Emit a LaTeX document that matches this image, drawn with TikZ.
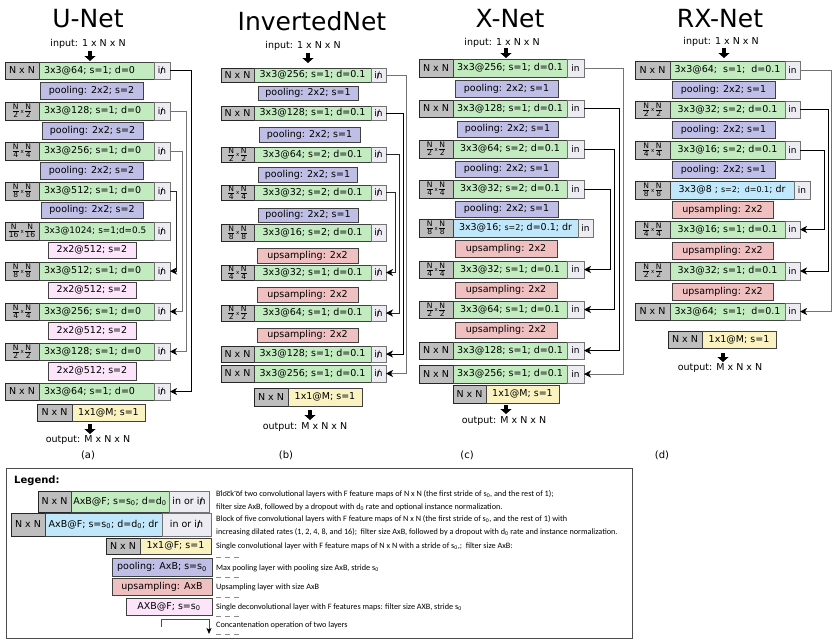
\documentclass[tikz,border=0pt]{standalone}
\usepackage{fontspec}
\setmainfont{DejaVu Sans}
\newfontfamily\descfont{Carlito}
\usetikzlibrary{arrows.meta}
\definecolor{cgray}{RGB}{190,190,190}
\definecolor{cgreen}{RGB}{194,235,192}
\definecolor{cblue}{RGB}{192,232,250}
\definecolor{cin}{RGB}{236,236,242}
\definecolor{cpool}{RGB}{190,190,230}
\definecolor{cup}{RGB}{240,192,192}
\definecolor{cdec}{RGB}{252,228,250}
\definecolor{cyel}{RGB}{250,242,192}
\definecolor{cline}{RGB}{115,115,115}
\newcommand{\bx}[7]{\node[#1, minimum width={(#5)-(#3)}, minimum height={(#6)-(#4)}] (#2) at (#3,#4) {#7};}
\newcommand{\fr}[1]{\ensuremath{\frac{\hbox{\fontsize{7.6}{7.6}\selectfont N}}{\hbox{\fontsize{7.6}{7.6}\selectfont #1}}}}
\newcommand{\fs}[1]{\fr{#1}\kern1pt\raisebox{0.3pt}{\fontsize{5.5}{6}\selectfont x}\kern0.3pt\fr{#1}}
\newcommand{\nin}{\ooalign{in\cr\hidewidth/\hidewidth\cr}}
\newcommand{\smtx}[1]{{\fontsize{8}{9}\selectfont #1}}
\newcommand{\crow}[5]{%
  \bx{szb}{#1s}{\cxa}{#2}{\cxb}{#3}{#4}
  \bx{cvs}{#1c}{\cxb}{#2}{\cxc}{#3}{#5}
  \bx{inb}{#1i}{\cxc}{#2}{\cxd}{#3}{\intxt}}
\tikzset{
  bx/.style={draw=black!75, line width=0.8pt, inner sep=0pt, outer sep=0pt, anchor=north west, font=\fontsize{9.5}{11}\selectfont},
  szb/.style={bx, fill=cgray, draw=black!85},
  cvb/.style={bx, fill=cgreen},
  blb/.style={bx, fill=cblue},
  inb/.style={bx, fill=cin, draw=black!55, font=\fontsize{9}{10}\selectfont},
  plb/.style={bx, fill=cpool},
  upb/.style={bx, fill=cup},
  dcb/.style={bx, fill=cdec},
  onb/.style={bx, fill=cyel},
  legb/.style={draw=black!70, line width=1pt, inner sep=0pt, outer sep=0pt, anchor=north west},
  cvs/.style={cvb},
  conn/.style={line width=0.9pt, -{Stealth[length=7pt,width=7pt,inset=2pt,color=black]}},
  bigarrow/.style={line width=4pt, -{Triangle[length=5pt,width=11pt]}},
  ttl/.style={font=\fontsize{25}{28}\selectfont, inner sep=0pt},
  lab/.style={font=\fontsize{9.5}{11}\selectfont, inner sep=0pt},
  sublab/.style={font=\fontsize{10}{12}\selectfont, inner sep=0pt},
  desc/.style={font=\descfont\fontsize{8.2}{9}\selectfont, anchor=west, inner sep=0pt},
  dmark/.style={draw=black!45, line width=0.6pt, dash pattern=on 5pt off 4pt},
}
\begin{document}
\begin{tikzpicture}[x=1pt,y=-1pt]
\useasboundingbox (0,0) rectangle (832,640);
\fill[white] (0,0) rectangle (832,640);

% ---------- titles ----------
\node[ttl] (At) at (88,19) {U-Net};
\node[ttl] (Bt) at (312,21) {InvertedNet};
\node[ttl] (Ct) at (510,19) {X-Net};
\node[ttl] (Dt) at (720,19) {RX-Net};

% ---------- U-Net ----------
\node[lab] (Ain) at (88,44) {input: 1 x N x N};
\coordinate (Aa1) at (90,51); \coordinate (Aa2) at (90,61);
\draw[bigarrow] (Aa1) -- (Aa2);
\def\cxa{5}\def\cxb{39}\def\cxc{154}\def\cxd{170}\def\intxt{\nin}
\tikzset{cvs/.style={cvb, align=left, text width=105pt, inner xsep=5pt}}
\crow{A1}{62}{79}{N x N}{3x3@64; s=1; d=0}
\crow{A2}{102}{120}{\fs{2}}{3x3@128; s=1; d=0}
\crow{A3}{142}{160}{\fs{4}}{3x3@256; s=1; d=0}
\crow{A4}{182}{200}{\fs{8}}{3x3@512; s=1; d=0}
\crow{A5}{222}{240}{\fs{16}}{{\fontsize{8.9}{10}\selectfont 3x3@1024; s=1;d=0.5}}
\crow{A6}{262}{280}{\fs{8}}{3x3@512; s=1; d=0}
\crow{A7}{303}{320}{\fs{4}}{3x3@256; s=1; d=0}
\crow{A8}{343}{360}{\fs{2}}{3x3@128; s=1; d=0}
\crow{A9}{383}{400}{N x N}{3x3@64; s=1; d=0}
\bx{plb}{Ap1}{40}{82}{143}{99}{pooling: 2x2; s=2}
\bx{plb}{Ap2}{42}{122}{143}{139}{pooling: 2x2; s=2}
\bx{plb}{Ap3}{40}{162}{143}{179}{pooling: 2x2; s=2}
\bx{plb}{Ap4}{41}{202}{143}{218}{pooling: 2x2; s=2}
\bx{dcb}{Ad1}{48}{242}{136}{258}{2x2@512; s=2}
\bx{dcb}{Ad2}{48}{282}{136}{298}{2x2@512; s=2}
\bx{dcb}{Ad3}{48}{322}{136}{339}{2x2@512; s=2}
\bx{dcb}{Ad4}{48}{362}{136}{380}{2x2@512; s=2}
\bx{szb}{Aos}{37}{404}{72}{421}{N x N}
\bx{onb}{Aoc}{72}{404}{145}{421}{1x1@M; s=1}
\coordinate (Ab1) at (90,424); \coordinate (Ab2) at (90,434);
\draw[bigarrow] (Ab1) -- (Ab2);
\node[lab] (Aout) at (88,440) {output: M x N x N};
\node[sublab] (Asub) at (88,455) {(a)};
\coordinate (Ac1) at (191,0); \coordinate (Ac2) at (186,0);
\coordinate (Ac3) at (182,0); \coordinate (Ac4) at (176,0);
\draw[conn, black] (A1i.east) -- (A1i.east -| Ac1) |- (A9i.east);
\draw[conn, cline] (A2i.east) -- (A2i.east -| Ac2) |- (A8i.east);
\draw[conn, cline] (A3i.east) -- (A3i.east -| Ac3) |- (A7i.east);
\draw[conn, black!85] (A4i.east) -- (A4i.east -| Ac4) |- (A6i.east);

% ---------- InvertedNet ----------
\node[lab] (Bin) at (303,46) {input: 1 x N x N};
\coordinate (Ba1) at (308,53); \coordinate (Ba2) at (308,63);
\draw[bigarrow] (Ba1) -- (Ba2);
\def\cxa{221}\def\cxb{254}\def\cxc{371}\def\cxd{386}\def\intxt{\nin}
\tikzset{cvs/.style={cvb}}
\crow{B1}{68}{82}{N x N}{3x3@256; s=1; d=0.1}
\crow{B2}{106}{120}{N x N}{3x3@128; s=1; d=0.1}
\crow{B3}{147}{162}{\fs{2}}{3x3@64; s=2; d=0.1}
\crow{B4}{185}{200}{\fs{4}}{3x3@32; s=2; d=0.1}
\crow{B5}{224}{241}{\fs{8}}{3x3@16; s=2; d=0.1}
\crow{B6}{265}{280}{\fs{4}}{3x3@32; s=1; d=0.1}
\crow{B7}{305}{321}{\fs{2}}{3x3@64; s=1; d=0.1}
\crow{B8}{346}{362}{N x N}{3x3@128; s=1; d=0.1}
\crow{B9}{365}{382}{N x N}{3x3@256; s=1; d=0.1}
\bx{plb}{Bp1}{258}{86}{358}{100}{pooling: 2x2; s=1}
\bx{plb}{Bp2}{259}{127}{360}{142}{pooling: 2x2; s=1}
\bx{plb}{Bp3}{258}{167}{357}{182}{pooling: 2x2; s=1}
\bx{plb}{Bp4}{258}{208}{358}{222}{pooling: 2x2; s=1}
\bx{upb}{Bu1}{257}{248}{358}{263}{upsampling: 2x2}
\bx{upb}{Bu2}{257}{287}{358}{302}{upsampling: 2x2}
\bx{upb}{Bu3}{257}{328}{358}{342}{upsampling: 2x2}
\bx{szb}{Bos}{254}{388}{288}{406}{N x N}
\bx{onb}{Boc}{288}{388}{362}{406}{1x1@M; s=1}
\coordinate (Bb1) at (310,410); \coordinate (Bb2) at (310,420);
\draw[bigarrow] (Bb1) -- (Bb2);
\node[lab] (Bout) at (305,427) {output: M x N x N};
\node[sublab] (Bsub) at (286,455) {(b)};
\coordinate (Bc1) at (406,0); \coordinate (Bc2) at (403,0);
\coordinate (Bc3) at (399,0); \coordinate (Bc4) at (395,0);
\draw[conn, cline] (B1i.east) -- (B1i.east -| Bc1) |- (B9i.east);
\draw[conn, black] (B2i.east) -- (B2i.east -| Bc2) |- (B8i.east);
\draw[conn, black!85] (B3i.east) -- (B3i.east -| Bc3) |- (B7i.east);
\draw[conn, black!85] (B4i.east) -- (B4i.east -| Bc4) |- (B6i.east);

% ---------- X-Net ----------
\node[lab] (Cin) at (502,43) {input: 1 x N x N};
\coordinate (Ca1) at (506,48); \coordinate (Ca2) at (506,58);
\draw[bigarrow] (Ca1) -- (Ca2);
\def\cxa{419}\def\cxb{453}\def\cxc{567}\def\cxd{584}\def\intxt{in}
\crow{C1}{59}{77}{N x N}{3x3@256; s=1; d=0.1}
\crow{C2}{100}{117}{N x N}{3x3@128; s=1; d=0.1}
\crow{C3}{140}{158}{\fs{2}}{3x3@64; s=2; d=0.1}
\crow{C4}{180}{198}{\fs{4}}{3x3@32; s=2; d=0.1}
\bx{szb}{C5s}{419}{219}{453}{237}{\fs{8}}
\bx{blb}{C5c}{453}{219}{578}{237}{3x3@16; \smtx{s=2}; d=0.1; dr}
\bx{inb}{C5i}{578}{219}{593}{237}{in}
\crow{C6}{261}{278}{\fs{4}}{3x3@32; s=1; d=0.1}
\crow{C7}{301}{318}{\fs{2}}{3x3@64; s=1; d=0.1}
\crow{C8}{342}{359}{N x N}{3x3@128; s=1; d=0.1}
\crow{C9}{365}{383}{N x N}{3x3@256; s=1; d=0.1}
\bx{plb}{Cp1}{455}{80}{558}{97}{pooling: 2x2; s=1}
\bx{plb}{Cp2}{457}{121}{558}{137}{pooling: 2x2; s=1}
\bx{plb}{Cp3}{455}{161}{558}{177}{pooling: 2x2; s=1}
\bx{plb}{Cp4}{455}{201}{558}{217}{pooling: 2x2; s=1}
\bx{upb}{Cu1}{455}{240}{557}{257}{upsampling: 2x2}
\bx{upb}{Cu2}{455}{282}{557}{298}{upsampling: 2x2}
\bx{upb}{Cu3}{455}{322}{557}{338}{upsampling: 2x2}
\bx{szb}{Cos}{453}{385}{486}{403}{N x N}
\bx{onb}{Coc}{486}{385}{559}{403}{1x1@M; s=1}
\coordinate (Cb1) at (506,405); \coordinate (Cb2) at (506,414);
\draw[bigarrow] (Cb1) -- (Cb2);
\node[lab] (Cout) at (504,421) {output: M x N x N};
\node[sublab] (Csub) at (467,455) {(c)};
\coordinate (Cc1) at (623,0); \coordinate (Cc2) at (619,0);
\coordinate (Cc3) at (614,0); \coordinate (Cc4) at (610,0);
\draw[conn, cline] (C1i.east) -- (C1i.east -| Cc1) |- (C9i.east);
\draw[conn, black] (C2i.east) -- (C2i.east -| Cc2) |- (C8i.east);
\draw[conn, black] (C3i.east) -- (C3i.east -| Cc3) |- (C7i.east);
\draw[conn, black] (C4i.east) -- (C4i.east -| Cc4) |- (C6i.east);

% ---------- RX-Net ----------
\node[lab] (Din) at (721,42) {input: 1 x N x N};
\coordinate (Da1) at (724,48); \coordinate (Da2) at (724,58);
\draw[bigarrow] (Da1) -- (Da2);
\def\cxa{635}\def\cxb{670}\def\cxc{785}\def\cxd{800}\def\intxt{in}
\crow{D1}{61}{79}{N x N}{3x3@64;~ s=1;~ d=0.1}
\crow{D2}{101}{118}{\fs{2}}{3x3@32; s=2; d=0.1}
\crow{D3}{141}{159}{\fs{4}}{3x3@16; s=2; d=0.1}
\bx{szb}{D4s}{635}{181}{670}{199}{\fs{8}}
\bx{blb}{D4c}{670}{181}{794}{199}{3x3@8 ; \smtx{s=2;~ d=0.1}; dr}
\bx{inb}{D4i}{794}{181}{810}{199}{in}
\crow{D5}{221}{238}{\fs{4}}{3x3@16; s=1; d=0.1}
\crow{D6}{262}{280}{\fs{2}}{3x3@32; s=1; d=0.1}
\crow{D7}{303}{320}{N x N}{3x3@64;~ s=1;~ d=0.1}
\bx{plb}{Dp1}{672}{81}{775}{98}{pooling: 2x2; s=1}
\bx{plb}{Dp2}{672}{121}{775}{138}{pooling: 2x2; s=1}
\bx{plb}{Dp3}{672}{161}{775}{178}{pooling: 2x2; s=1}
\bx{upb}{Du1}{672}{201}{773}{218}{upsampling: 2x2}
\bx{upb}{Du2}{672}{242}{773}{259}{upsampling: 2x2}
\bx{upb}{Du3}{672}{283}{773}{300}{upsampling: 2x2}
\bx{szb}{Dos}{668}{331}{702}{348}{N x N}
\bx{onb}{Doc}{702}{331}{776}{348}{1x1@M; s=1}
\coordinate (Db1) at (723,353); \coordinate (Db2) at (723,362);
\draw[bigarrow] (Db1) -- (Db2);
\node[lab] (Dout) at (720,368) {output: M x N x N};
\node[sublab] (Dsub) at (662,455) {(d)};
\coordinate (Dc1) at (831,0); \coordinate (Dc2) at (828,0);
\coordinate (Dc3) at (824,0);
\draw[conn, cline] (D1i.east) -- (D1i.east -| Dc1) |- (D7i.east);
\draw[conn, black] (D2i.east) -- (D2i.east -| Dc2) |- (D6i.east);
\draw[conn, black] (D3i.east) -- (D3i.east -| Dc3) |- (D5i.east);

% ---------- Legend ----------
\bx{legb}{Leg}{6}{468}{632}{638}{}
\node[font=\bfseries\fontsize{10}{12}\selectfont, anchor=west, inner sep=0pt] (LegT) at (14,481) {Legend:};
\bx{szb}{L1s}{38}{491}{71}{512}{N x N}
\bx{cvb}{L1c}{71}{491}{169}{512}{AxB@F; s=s\textsubscript{0}; d=d\textsubscript{0}}
\bx{inb}{L1i}{169}{491}{209}{512}{\fontsize{9.5}{11}\selectfont in or \nin}
\bx{szb}{L2s}{11}{513}{45}{536}{N x N}
\bx{blb}{L2c}{45}{513}{162}{536}{AxB@F; s=s\textsubscript{0}; d=d\textsubscript{0}; dr}
\bx{inb}{L2i}{162}{513}{211}{536}{\fontsize{9.5}{11}\selectfont in or \nin}
\bx{szb}{L3s}{106}{538}{140}{554}{N x N}
\bx{onb}{L3c}{140}{538}{211}{554}{1x1@F; s=1}
\bx{plb}{L4}{112}{558}{212}{576}{pooling: AxB; s=s\textsubscript{0}}
\bx{upb}{L5}{112}{578}{212}{595}{upsampling: AxB}
\bx{dcb}{L6}{126}{598}{212}{615}{AXB@F; s=s\textsubscript{0}}
\coordinate (K1) at (161,627); \coordinate (K3) at (209,619); \coordinate (K2) at (209,634);
\draw[line width=0.8pt, black!70, -{Stealth[length=6pt,width=5pt,inset=1.5pt,color=black]}] (K1) |- (K3) -- (K2);

\node[desc] (T1a) at (216,494) {Block of two convolutional layers with F feature maps of N x N (the first stride of s\textsubscript{0}, and the rest of 1);};
\node[desc] (T1b) at (216,507) {filter size AxB, followed by a dropout with d\textsubscript{0} rate and optional instance normalization.};
\node[desc] (T2a) at (216,519) {Block of five convolutional layers with F feature maps of N x N (the first stride of s\textsubscript{0}, and the rest of 1) with};
\node[desc] (T2b) at (216,532) {increasing dilated rates (1, 2, 4, 8, and 16);~ filter size AxB, followed by a dropout with d\textsubscript{0} rate and instance normalization.};
\node[desc] (T3) at (216,546) {Single convolutional layer with F feature maps of N x N with a stride of s\textsubscript{0},;~ filter size AxB:};
\node[desc] (T4) at (216,568) {Max pooling layer with pooling size AxB, stride s\textsubscript{0}};
\node[desc] (T5) at (216,587) {Upsampling layer with size AxB};
\node[desc] (T6) at (216,607) {Single deconvolutional layer with F features maps: filter size AXB, stride s\textsubscript{0}};
\node[desc] (T7) at (216,625) {Concantenation operation of two layers};
\foreach \yy in {491,557,577,597,616,634} \draw[dmark] (216,\yy) -- (242,\yy);
\end{tikzpicture}
\end{document}
